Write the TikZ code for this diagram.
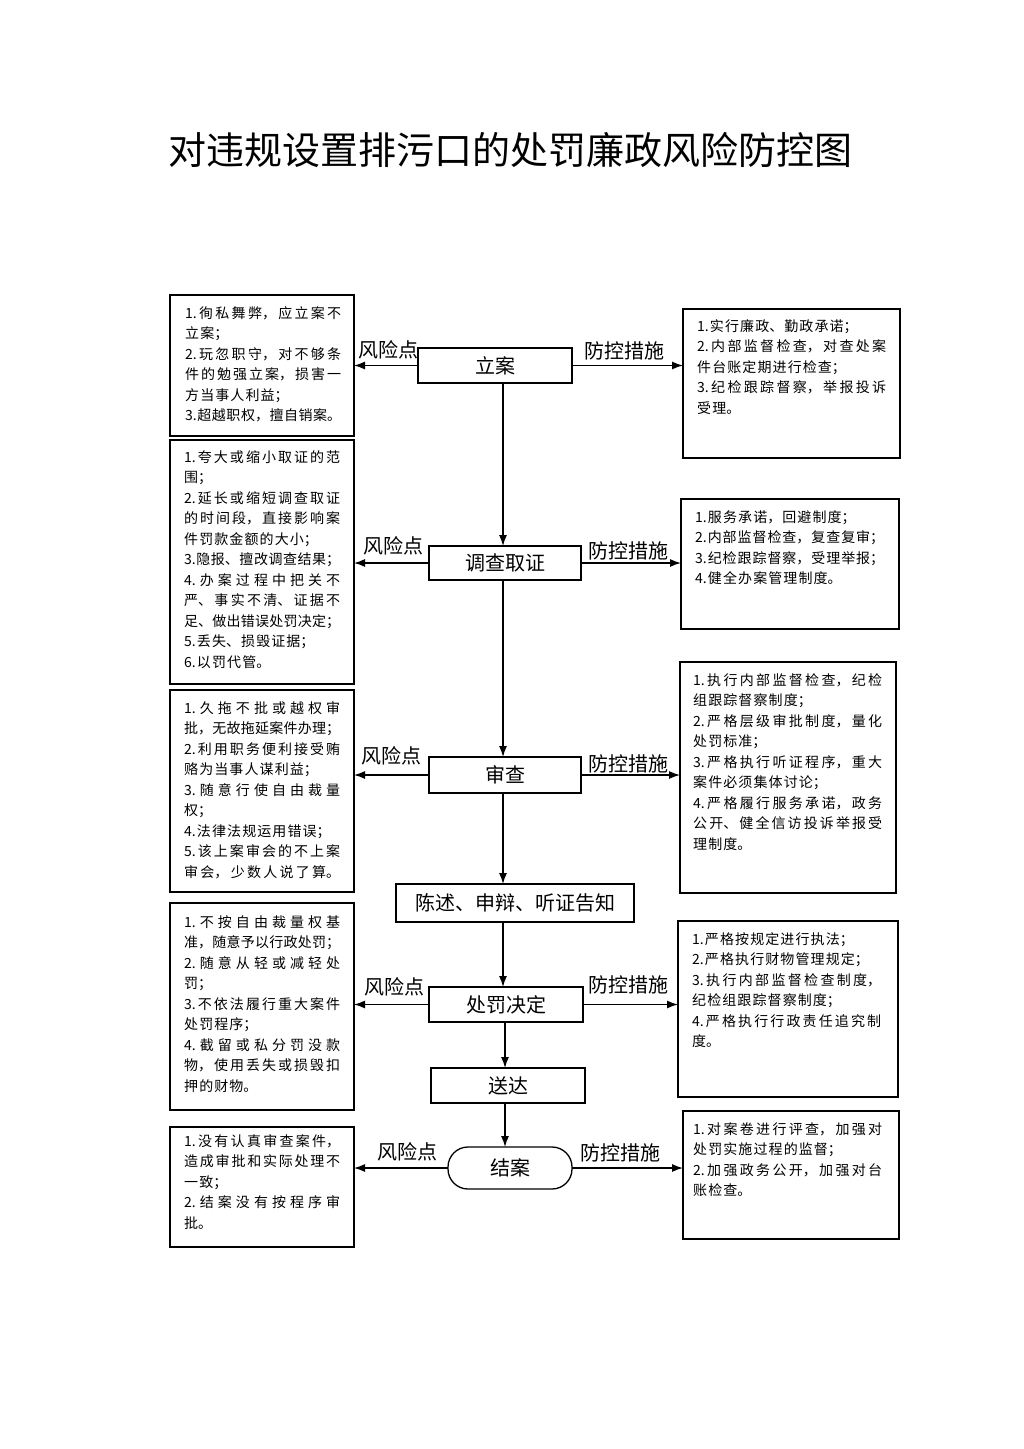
\documentclass[tikz,border=0pt]{standalone}
\usepackage{fontspec}
\setmainfont{Noto Sans CJK SC}
\usetikzlibrary{arrows.meta}
\XeTeXlinebreaklocale "zh"
\XeTeXlinebreakskip=1.1pt plus 3pt minus 1.1pt
\newlength\tw
\newcommand\jl[1]{\parbox[t]{\tw}{\parfillskip=0pt\relax\noindent #1\par}}
\begin{document}
\begin{tikzpicture}[x=1pt,y=-1pt,
  box/.style={draw, line width=1.4pt, anchor=north west, inner sep=0pt, outer sep=0pt},
  cbox/.style={draw, line width=1.3pt, anchor=north west, inner sep=0pt, outer sep=0pt, font=\fontsize{20pt}{24pt}\selectfont},
  txt/.style={anchor=north west, inner sep=0pt, align=left, font=\fontsize{14pt}{20.5pt}\selectfont},
  ltxt/.style={txt, text width=168pt, execute at begin node={\setlength\tw{156pt}}},
  rtxt/.style={txt, text width=200pt, execute at begin node={\setlength\tw{189pt}}},
  lab/.style={font=\fontsize{20pt}{24pt}\selectfont, inner sep=0pt},
  arr/.style={line width=1.3pt, -{Latex[length=11pt,width=8pt]}}]
\useasboundingbox[fill=white] (0,0) rectangle (1024,1449);

\node[font=\fontsize{38pt}{40pt}\selectfont, inner sep=0pt] (title) at (510,150) {对违规设置排污口的处罚廉政风险防控图};

% centre nodes
\node[cbox, minimum width=154pt, minimum height=35pt] (lian) at (418,348) {立案};
\node[cbox, minimum width=152pt, minimum height=34pt] (diaocha) at (429,546) {调查取证};
\node[cbox, minimum width=152pt, minimum height=36pt] (shencha) at (429,757) {审查};
\node[cbox, minimum width=238pt, minimum height=38pt] (chenshu) at (396,884) {陈述、申辩、听证告知};
\node[cbox, minimum width=154pt, minimum height=35pt] (chufa) at (429,987) {处罚决定};
\node[cbox, minimum width=154pt, minimum height=35pt] (songda) at (431,1068) {送达};
\node[cbox, minimum width=124pt, minimum height=42pt, rounded corners=20pt] (jiean) at (448,1147) {结案};

% left boxes
\node[box, minimum width=184pt, minimum height=141pt] (l1) at (170,295) {};
\node[box, minimum width=184pt, minimum height=244pt] (l2) at (170,440) {};
\node[box, minimum width=184pt, minimum height=202pt] (l3) at (170,690) {};
\node[box, minimum width=184pt, minimum height=207pt] (l4) at (170,903) {};
\node[box, minimum width=184pt, minimum height=120pt] (l5) at (170,1127) {};
% right boxes
\node[box, minimum width=217pt, minimum height=149pt] (r1) at (683,309) {};
\node[box, minimum width=218pt, minimum height=130pt] (r2) at (681,499) {};
\node[box, minimum width=216pt, minimum height=231pt] (r3) at (680,662) {};
\node[box, minimum width=220pt, minimum height=176pt] (r4) at (678,921) {};
\node[box, minimum width=216pt, minimum height=128pt] (r5) at (683,1111) {};

% left texts
\node[ltxt] (l1t) at (185,306) {\jl{1.徇私舞弊，应立案不}\\立案；\\\jl{2.玩忽职守，对不够条}\\\jl{件的勉强立案，损害一}\\方当事人利益；\\\jl{3.超越职权，擅自销案。}};
\node[ltxt] (l2t) at (184,450) {\jl{1.夸大或缩小取证的范}\\围；\\\jl{2.延长或缩短调查取证}\\\jl{的时间段，直接影响案}\\件罚款金额的大小；\\\jl{3.隐报、擅改调查结果；}\\\jl{4.办案过程中把关不}\\\jl{严、事实不清、证据不}\\\jl{足、做出错误处罚决定；}\\5.丢失、损毁证据；\\6.以罚代管。};
\node[ltxt] (l3t) at (184,701) {\jl{1.久拖不批或越权审}\\\jl{批，无故拖延案件办理；}\\\jl{2.利用职务便利接受贿}\\赂为当事人谋利益；\\\jl{3.随意行使自由裁量}\\权；\\4.法律法规运用错误；\\\jl{5.该上案审会的不上案}\\\jl{审会，少数人说了算。}};
\node[ltxt] (l4t) at (184,915) {\jl{1.不按自由裁量权基}\\\jl{准，随意予以行政处罚；}\\\jl{2.随意从轻或减轻处}\\罚；\\\jl{3.不依法履行重大案件}\\处罚程序；\\\jl{4.截留或私分罚没款}\\\jl{物，使用丢失或损毁扣}\\押的财物。};
\node[ltxt] (l5t) at (184,1134) {\jl{1.没有认真审查案件，}\\\jl{造成审批和实际处理不}\\一致；\\\jl{2.结案没有按程序审}\\批。};

% right texts
\node[rtxt] (r1t) at (697,319) {1.实行廉政、勤政承诺；\\\jl{2.内部监督检查，对查处案}\\件台账定期进行检查；\\\jl{3.纪检跟踪督察，举报投诉}\\受理。};
\node[rtxt] (r2t) at (695,510) {1.服务承诺，回避制度；\\\jl{2.内部监督检查，复查复审；}\\\jl{3.纪检跟踪督察，受理举报；}\\4.健全办案管理制度。};
\node[rtxt] (r3t) at (693,673) {\jl{1.执行内部监督检查，纪检}\\组跟踪督察制度；\\\jl{2.严格层级审批制度，量化}\\处罚标准；\\\jl{3.严格执行听证程序，重大}\\案件必须集体讨论；\\\jl{4.严格履行服务承诺，政务}\\\jl{公开、健全信访投诉举报受}\\理制度。};
\node[rtxt] (r4t) at (692,932) {1.严格按规定进行执法；\\2.严格执行财物管理规定；\\\jl{3.执行内部监督检查制度，}\\纪检组跟踪督察制度；\\\jl{4.严格执行行政责任追究制}\\度。};
\node[rtxt] (r5t) at (693,1122) {\jl{1.对案卷进行评查，加强对}\\处罚实施过程的监督；\\\jl{2.加强政务公开，加强对台}\\账检查。};

% labels
\node[lab] (f1) at (388,350) {风险点};
\node[lab] (m1) at (624,351) {防控措施};
\node[lab] (f2) at (393,546) {风险点};
\node[lab] (m2) at (628,551) {防控措施};
\node[lab] (f3) at (391,756) {风险点};
\node[lab] (m3) at (628,764) {防控措施};
\node[lab] (f4) at (394,987) {风险点};
\node[lab] (m4) at (628,985) {防控措施};
\node[lab] (f5) at (407,1152) {风险点};
\node[lab] (m5) at (620,1153) {防控措施};

% horizontal arrows
\foreach \c/\l/\r in {lian/l1/r1, diaocha/l2/r2, shencha/l3/r3, chufa/l4/r4, jiean/l5/r5}{
  \draw[arr] (\c.west) -- (\c.west -| \l.east);
  \draw[arr] (\c.east) -- (\c.east -| \r.west);
}

% vertical flow
\coordinate (vx) at (503,0);
\coordinate (vy) at (505,0);
\draw[arr] (lian.south -| vx) -- (diaocha.north -| vx);
\draw[arr] (diaocha.south -| vx) -- (shencha.north -| vx);
\draw[arr] (shencha.south -| vx) -- (chenshu.north -| vx);
\draw[arr] (chenshu.south -| vx) -- (chufa.north -| vx);
\draw[arr] (chufa.south -| vy) -- (songda.north -| vy);
\draw[arr] (songda.south -| vy) -- (jiean.north -| vy);
\end{tikzpicture}
\end{document}
